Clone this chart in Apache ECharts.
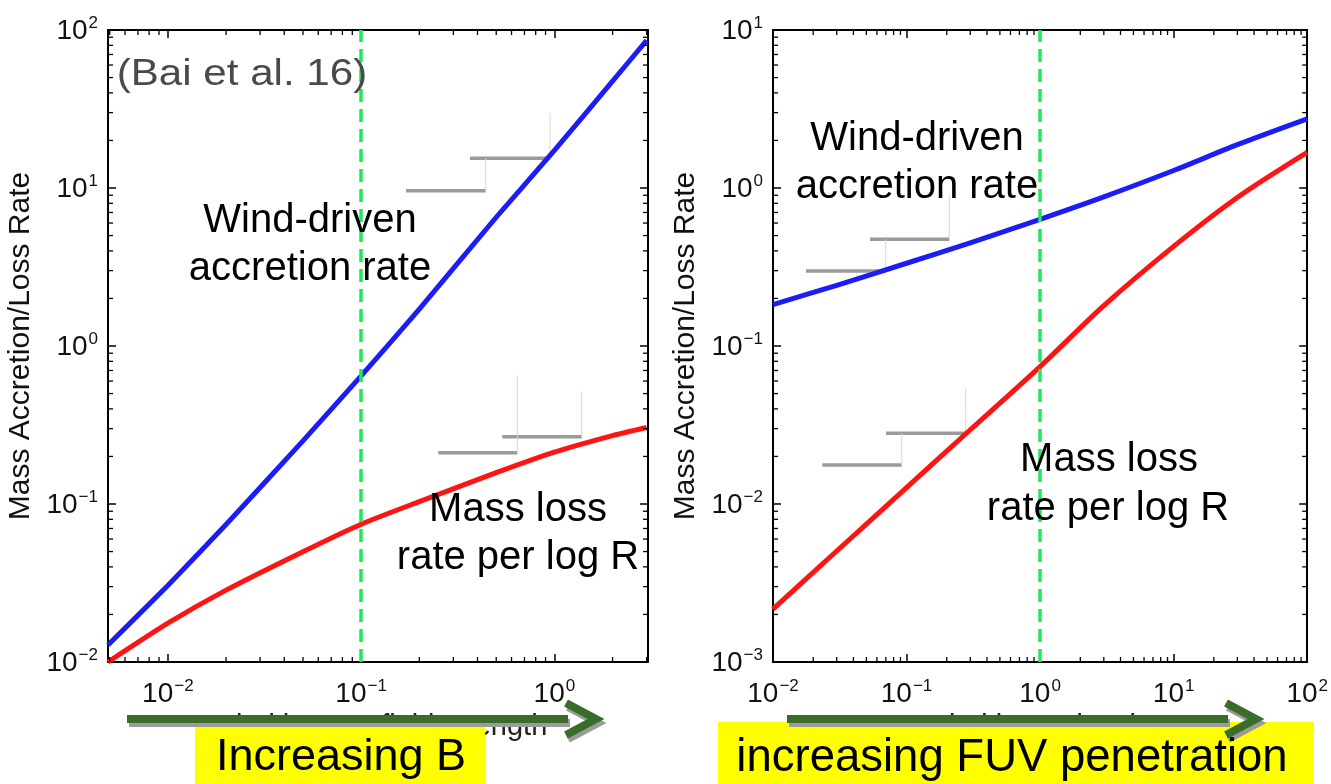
<!DOCTYPE html>
<html>
<head>
<meta charset="utf-8">
<script src="https://cdn.jsdelivr.net/npm/echarts@6/dist/echarts.min.js"></script>
<style>
html, body { margin: 0; padding: 0; background: #fff; }
#main { width: 1331px; height: 784px; }
</style>
</head>
<body>
<div id="main"></div>
<script>
// left panel: rates vs wind B field strength
var bField = [0.0049, 0.01, 0.02, 0.05, 0.1, 0.2, 0.5, 1, 2, 3.0];
var accretionB = [0.0128, 0.0305, 0.0741, 0.251, 0.647, 1.71, 6.53, 17.3, 47.4, 86];
var massLossB = [0.0100, 0.0176, 0.0285, 0.0499, 0.0745, 0.1035, 0.158, 0.213, 0.271, 0.305];
var markerB = 0.1;

// right panel: rates vs FUV penetration
var fuvDepth = [0.01, 0.03, 0.1, 0.3, 1, 3, 10, 30, 100];
var accretionF = [0.183, 0.242, 0.334, 0.449, 0.634, 0.879, 1.29, 1.88, 2.74];
var massLossF = [0.00216, 0.00504, 0.0127, 0.0295, 0.0741, 0.180, 0.427, 0.871, 1.68];
var markerF = 1;

var FONT = '"Liberation Sans", Arial, Helvetica, sans-serif';
var BLUE = '#1c1cf5', RED = '#ff1414', GREEN = '#1fe85a';

var chart = echarts.init(document.getElementById('main'));

function zip(xs, ys) {
    return xs.map(function (x, i) { return [x, ys[i]]; });
}

function powLabel(v) { // only label the decades
    var e = Math.log10(v), r = Math.round(e);
    if (Math.abs(e - r) > 1e-6) return '';
    return '{b|10}{s|' + (r < 0 ? '\u2212' + (-r) : r) + '}';
}

var labelRich = {
    b: { fontSize: 28, fontFamily: FONT, color: '#111', verticalAlign: 'bottom' },
    s: { fontSize: 17, fontFamily: FONT, color: '#111', verticalAlign: 'bottom', padding: [0, 0, 13, 1] }
};

function logAxis(grid, min, max, pos, withLabels, extra) {
    var a = {
        type: 'log', gridIndex: grid, position: pos, min: min, max: max,
        axisLine: { show: true, onZero: false, lineStyle: { color: '#000', width: 2 } },
        axisTick: { show: true, inside: true, length: 8, lineStyle: { color: '#000', width: 1.5 } },
        axisLabel: withLabels ? {
            show: true, formatter: powLabel, rich: labelRich,
            margin: (pos === 'bottom') ? 16 : 10
        } : { show: false },
        splitLine: { show: false }
    };
    if (extra) for (var k in extra) a[k] = extra[k];
    return a;
}

function minors(min, max) { // 2..9 x 10^k inside the range
    var out = [];
    for (var k = Math.floor(Math.log10(min)); k <= Math.ceil(Math.log10(max)); k++) {
        for (var m = 2; m <= 9; m++) {
            var v = m * Math.pow(10, k);
            if (v > min * 1.001 && v < max * 0.999) out.push(v);
        }
    }
    return out;
}

function tickLine(x1, y1, x2, y2) {
    return { type: 'line', shape: { x1: x1, y1: y1, x2: x2, y2: y2 }, style: { stroke: '#000', lineWidth: 1.3 } };
}

function minorSeries(ax, xr, yr) {
    var xs = minors(xr[0], xr[1]).map(function (v) { return [v, yr[0], 0]; });
    var ys = minors(yr[0], yr[1]).map(function (v) { return [xr[0], v, 1]; });
    return {
        type: 'custom', xAxisIndex: ax, yAxisIndex: ax, silent: true, clip: false, z: 5,
        data: xs.concat(ys),
        renderItem: function (params, api) {
            var kind = api.value(2), L = 5;
            if (kind === 0) {
                var b = api.coord([api.value(0), yr[0]]), t = api.coord([api.value(0), yr[1]]);
                return { type: 'group', children: [tickLine(b[0], b[1], b[0], b[1] - L), tickLine(t[0], t[1], t[0], t[1] + L)] };
            }
            var l = api.coord([xr[0], api.value(1)]), r = api.coord([xr[1], api.value(1)]);
            return { type: 'group', children: [tickLine(l[0], l[1], l[0] + L, l[1]), tickLine(r[0], r[1], r[0] - L, r[1])] };
        }
    };
}

function curve(ax, data, color, marker, smooth) {
    var s = {
        type: 'line', xAxisIndex: ax, yAxisIndex: ax, data: data, showSymbol: false, smooth: smooth,
        lineStyle: { color: color, width: 5, join: 'round' }, z: 3
    };
    if (marker != null) {
        s.markLine = {
            silent: true, symbol: 'none', label: { show: false },
            lineStyle: { color: GREEN, width: 3.5, type: [13, 7] },
            data: [{ xAxis: marker }]
        };
    }
    return s;
}

function names(xTitle) {
    return {
        x: {
            name: xTitle, nameLocation: 'middle', nameGap: 46,
            nameTextStyle: { fontSize: 29, fontFamily: FONT, color: '#222', verticalAlign: 'top' }
        },
        y: {
            name: 'Mass Accretion/Loss Rate', nameLocation: 'middle', nameGap: 72,
            nameTextStyle: { fontSize: 30, fontFamily: FONT, color: '#111' }
        }
    };
}
var namesB = names('Wind base B field strength');
var namesF = names('Wind base density');

var xrB = [0.0049, 3.05], yrB = [0.01, 100];
var xrF = [0.01, 100], yrF = [0.001, 10];

function txt(x, y, s, size, color, sx) {
    return {
        type: 'text', x: x, y: y, scaleX: sx || 1, z: 80,
        style: { text: s, font: size + 'px ' + FONT, fill: color || '#000', align: 'center', verticalAlign: 'middle' }
    };
}

function seg(x1, y1, x2, y2, color, w) {
    return { type: 'line', z: 1, shape: { x1: x1, y1: y1, x2: x2, y2: y2 }, style: { stroke: color, lineWidth: w } };
}

function arrow(x1, x2, y) {
    var head = [[x2 - 2, y - 16], [x2 + 28, y], [x2 - 2, y + 16]];
    var sh = head.map(function (p) { return [p[0] + 2, p[1] + 4]; });
    return [
        seg(x1 + 2, y + 4, x2 + 2, y + 4, '#9b9b9b', 8),
        { type: 'polyline', shape: { points: sh }, style: { stroke: '#9b9b9b', lineWidth: 8, fill: null } },
        seg(x1, y, x2, y, '#3a6d2a', 8),
        { type: 'polyline', shape: { points: head }, style: { stroke: '#3a6d2a', lineWidth: 8, fill: null } }
    ].map(function (e, i) { e.z = 60 + i; return e; });
}

var graphics = [
    txt(242, 75, '(Bai et al. 16)', 36, '#4a4a4a', 1.17),
    txt(310, 221, 'Wind-driven', 40), txt(310, 269, 'accretion rate', 40),
    txt(518, 510, 'Mass loss', 40), txt(518, 558, 'rate per log R', 40),
    txt(917, 139, 'Wind-driven', 40), txt(917, 187, 'accretion rate', 40),
    txt(1109, 460, 'Mass loss', 40), txt(1108, 509, 'rate per log R', 40),

    // grey staircase marks
    seg(406, 190.7, 485.7, 190.7, '#9a9a9a', 3.5), seg(470, 158.3, 550, 158.3, '#9a9a9a', 3.5),
    seg(485.7, 158.3, 485.7, 190.7, '#d8d8d8', 1), seg(550, 113, 550, 158.3, '#d8d8d8', 1),
    seg(438.3, 452.7, 517.3, 452.7, '#9a9a9a', 3.5), seg(502.3, 436.7, 581.7, 436.7, '#9a9a9a', 3.5),
    seg(517.3, 375, 517.3, 452.7, '#d8d8d8', 1), seg(581.7, 391.7, 581.7, 436.7, '#d8d8d8', 1),
    seg(806, 271, 885.7, 271, '#9a9a9a', 3.5), seg(870, 239.3, 949.3, 239.3, '#9a9a9a', 3.5),
    seg(885.7, 239.3, 885.7, 271, '#d8d8d8', 1), seg(949.3, 194, 949.3, 239.3, '#d8d8d8', 1),
    seg(822.3, 465, 901.7, 465, '#9a9a9a', 3.5), seg(886, 433.3, 965.7, 433.3, '#9a9a9a', 3.5),
    seg(901.7, 433.3, 901.7, 465, '#d8d8d8', 1), seg(965.7, 388.3, 965.7, 433.3, '#d8d8d8', 1),

    // yellow captions
    { type: 'rect', z: 55, shape: { x: 195, y: 722, width: 290, height: 62 }, style: { fill: '#ffff00' } },
    { type: 'rect', z: 55, shape: { x: 718, y: 722, width: 596, height: 62 }, style: { fill: '#ffff00' } }
]
    .concat(arrow(127, 568, 719))
    .concat(arrow(787, 1228, 719))
    .concat([
        txt(341, 758, 'Increasing B', 45),
        txt(1012, 758, 'increasing FUV penetration', 45.5)
    ]);

var option = {
    backgroundColor: '#fff',
    animation: false,
    grid: [
        { left: 108, top: 30, width: 540, height: 632 },
        { left: 773, top: 30, width: 540, height: 632 }
    ],
    xAxis: [
        logAxis(0, xrB[0], xrB[1], 'bottom', true, namesB.x),
        logAxis(0, xrB[0], xrB[1], 'top', false),
        logAxis(1, xrF[0], xrF[1], 'bottom', true, namesF.x),
        logAxis(1, xrF[0], xrF[1], 'top', false)
    ],
    yAxis: [
        logAxis(0, yrB[0], yrB[1], 'left', true, namesB.y),
        logAxis(0, yrB[0], yrB[1], 'right', false),
        logAxis(1, yrF[0], yrF[1], 'left', true, namesF.y),
        logAxis(1, yrF[0], yrF[1], 'right', false)
    ],
    series: [
        curve(0, zip(bField, accretionB), BLUE, markerB, 0.15),
        curve(0, zip(bField, massLossB), RED, null, 0.2),
        minorSeries(0, xrB, yrB),
        curve(2, zip(fuvDepth, accretionF), BLUE, markerF, 0.3),
        curve(2, zip(fuvDepth, massLossF), RED, null, 0.3),
        minorSeries(2, xrF, yrF)
    ],
    graphic: graphics
};

chart.setOption(option);
</script>
</body>
</html>
